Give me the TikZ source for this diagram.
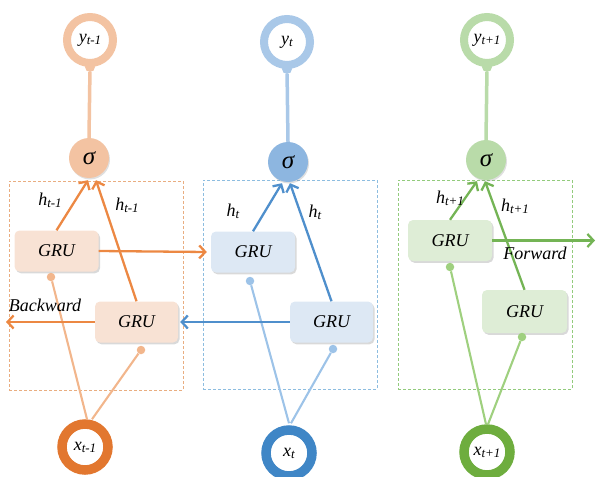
\documentclass[tikz,border=0pt]{standalone}
\usepackage{fontspec}
\setmainfont{Liberation Serif}
\usetikzlibrary{arrows.meta,shadows}

% palette: dark ring, arrow, light fill, GRU fill, input line, frame
\definecolor{orDark}{HTML}{E2772F}
\definecolor{orArrow}{HTML}{EC8843}
\definecolor{orLight}{HTML}{F3C3A2}
\definecolor{orGRU}{HTML}{F8E2D4}
\definecolor{orLine}{HTML}{F2B68C}
\definecolor{orFrame}{HTML}{E9AD80}
\definecolor{blDark}{HTML}{3F86C6}
\definecolor{blArrow}{HTML}{4F8FCC}
\definecolor{blLight}{HTML}{8DB6E0}
\definecolor{blY}{HTML}{A9C8E8}
\definecolor{blGRU}{HTML}{DDE8F4}
\definecolor{blLine}{HTML}{9DC3E8}
\definecolor{blFrame}{HTML}{8DBDE0}
\definecolor{grDark}{HTML}{6EAD3E}
\definecolor{grArrow}{HTML}{74B455}
\definecolor{grLight}{HTML}{B9DBA9}
\definecolor{grGRU}{HTML}{DEEDD6}
\definecolor{grLine}{HTML}{9FD07F}
\definecolor{grFrame}{HTML}{92CB7C}

\newcommand\isub[2]{\textit{#1}\raisebox{-0.25ex}{\fontsize{13}{13}\selectfont\itshape #2}}

\tikzset{
  txt/.style={font=\fontsize{18}{18}\selectfont\itshape},
  lbl/.style={txt, inner sep=0pt},
  grubox/.style={rounded corners=5pt, minimum width=84pt, minimum height=41pt,
    fill=#1, inner sep=0pt, txt,
    drop shadow={opacity=0.3, shadow xshift=1.5pt, shadow yshift=-1.8pt}},
  sigmanode/.style={circle, minimum size=40pt, fill=#1, inner sep=0pt,
    font=\fontsize{25}{25}\selectfont\itshape,
    drop shadow={opacity=0.25, shadow xshift=1pt, shadow yshift=-1.5pt}},
  ring/.style={circle, draw=#1, fill=white, line width=8pt, minimum size=46pt,
    inner sep=0pt, txt,
    drop shadow={opacity=0.15, shadow xshift=1pt, shadow yshift=-1.5pt}},
  xring/.style={ring=#1, line width=9.5pt, minimum size=46pt},
  frame/.style={draw=#1, dash pattern=on 3pt off 2pt, line width=0.9pt, inner sep=0pt},
  joint/.style={circle, fill=#1, minimum size=8.5pt, inner sep=0pt},
  flow/.style={draw=#1, line width=2.3pt, -{Straight Barb[length=6pt,width=13pt]}},
  feed/.style={draw=#1, line width=2.1pt},
  stem/.style={draw=#1, line width=3.5pt},
}

\begin{document}
\begin{tikzpicture}[x=1pt, y=-1pt]
\useasboundingbox (0,0) rectangle (596,476);

% ---------- dashed cell frames ----------
\node[frame=orFrame, minimum width=174pt, minimum height=209pt] (f1) at (96,285.5) {};
\node[frame=blFrame, minimum width=174pt, minimum height=209pt] (f2) at (290,284.5) {};
\node[frame=grFrame, minimum width=174pt, minimum height=209pt] (f3) at (485,284.5) {};

% ---------- outputs and sigmoid units ----------
\node[ring=orLight] (y1) at (90,40) {\isub{y}{t-1}};
\node[ring=blY] (y2) at (287,42) {\isub{y}{t}};
\node[ring=grLight] (y3) at (487,40) {\isub{y}{t+1}};

\node[sigmanode=orLight] (s1) at (89,158) {σ};
\node[sigmanode=blLight] (s2) at (288,162) {σ};
\node[sigmanode=grLight] (s3) at (486,160) {σ};

\node[joint=orLight, minimum size=10pt] (j1) at (y1.south) {};
\node[joint=blY, minimum size=10pt] (j2) at (y2.south) {};
\node[joint=grLight, minimum size=10pt] (j3) at (y3.south) {};
\draw[stem=orLight] (s1.north) -- (j1);
\draw[stem=blY] (s2.north) -- (j2);
\draw[stem=grLight] (s3.north) -- (j3);

% ---------- inputs ----------
\node[xring=orDark] (x1) at (85,447) {\isub{x}{t-1}};
\node[xring=blDark] (x2) at (289,453) {\isub{x}{t}};
\node[xring=grDark] (x3) at (487,452) {\isub{x}{t+1}};

% ---------- GRU cells ----------
\node[grubox=orGRU] (g1u) at (56.5,251) {GRU};
\node[grubox=orGRU, minimum width=83pt] (g1d) at (136.5,322) {GRU};
\node[grubox=blGRU] (g2u) at (253,252) {GRU};
\node[grubox=blGRU, minimum width=83pt] (g2d) at (331.5,322) {GRU};
\node[grubox=grGRU] (g3u) at (450,240.5) {GRU};
\node[grubox=grGRU, minimum width=85pt, minimum height=43pt] (g3d) at (524.5,311.5) {GRU};

% ---------- input joints and feeds ----------
\node[joint=orLine] (d1u) at (51,277) {};
\node[joint=orLine] (d1d) at (141,350) {};
\node[joint=blLine] (d2u) at (250,281) {};
\node[joint=blLine] (d2d) at (333,349) {};
\node[joint=grLine] (d3u) at (450,267) {};
\node[joint=grLine] (d3d) at (522,337) {};

\draw[feed=orLine] (d1u) -- ([xshift=2pt]x1.north);
\draw[feed=orLine] (d1d) -- ([xshift=7pt]x1.north);
\draw[feed=blLine] (d2u) -- ([xshift=0pt,yshift=2pt]x2.north);
\draw[feed=blLine] (d2d) -- ([xshift=2pt,yshift=2pt]x2.north);
\draw[feed=grLine] (d3u) -- ([xshift=-1pt]x3.north);
\draw[feed=grLine] (d3d) -- ([xshift=1pt]x3.north);

% ---------- hidden states into sigmoid ----------
\draw[flow=orArrow] (g1u.north) -- ([xshift=-1pt,yshift=-2pt]s1.south);
\draw[flow=orArrow] (g1d.north) -- ([xshift=7pt,yshift=-2pt]s1.south);
\draw[flow=blArrow] (g2u.north) -- ([xshift=-6pt,yshift=-1pt]s2.south);
\draw[flow=blArrow] (g2d.north) -- ([xshift=2pt,yshift=-1pt]s2.south);
\draw[flow=grArrow] (g3u.north) -- ([xshift=-9pt,yshift=-1pt]s3.south);
\draw[flow=grArrow] (g3d.north) -- ([xshift=-1pt,yshift=-1pt]s3.south);

\node[lbl] (h1a) at (50,200) {\isub{h}{t-1}};
\node[lbl] (h1b) at (127,205) {\isub{h}{t-1}};
\node[lbl] (h2a) at (233,211) {\isub{h}{t}};
\node[lbl] (h2b) at (315,212) {\isub{h}{t}};
\node[lbl] (h3a) at (450,198) {\isub{h}{t+1}};
\node[lbl] (h3b) at (515,206) {\isub{h}{t+1}};

% ---------- recurrent directions ----------
\coordinate (bk) at (6,322);
\coordinate (fw) at (595,240.5);
\draw[flow=orArrow] (g1u.east) -- ([xshift=-4pt]g2u.west);
\draw[flow=blArrow] (g2d.west) -- ([xshift=2pt]g1d.east);
\draw[flow=orArrow] (g1d.west) -- (bk);
\draw[flow=grArrow] (g3u.east) -- (fw);

\node[lbl] (bwd) at (45,305) {Backward};
\node[lbl] (fwd) at (535,253) {Forward};
\end{tikzpicture}
\end{document}
